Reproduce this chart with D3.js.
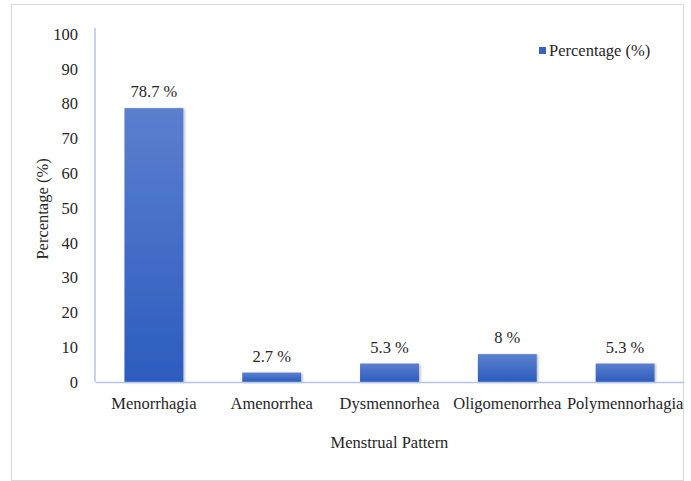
<!DOCTYPE html>
<html>
<head>
<meta charset="utf-8">
<script src="https://cdn.jsdelivr.net/npm/d3@7"></script>
<style>
  html, body { margin: 0; padding: 0; background: #fff; }
  svg { display: block; font-family: "Liberation Serif", "Times New Roman", serif; }
</style>
</head>
<body>
<svg id="chart" width="691" height="481"></svg>
<script>
// Menstrual pattern distribution
const categories = ["Menorrhagia", "Amenorrhea", "Dysmennorhea", "Oligomenorrhea", "Polymennorhagia"];
const values = [78.7, 2.7, 5.3, 8, 5.3];
const valueLabels = ["78.7 %", "2.7 %", "5.3 %", "8 %", "5.3 %"];
const yTicks = [0, 10, 20, 30, 40, 50, 60, 70, 80, 90, 100];
const seriesName = "Percentage (%)";

const FS = 16.5;
const TXT = "#262626";

const svg = d3.select("#chart");

// outer frame
svg.append("rect")
  .attr("x", 11.5).attr("y", 4.5)
  .attr("width", 672).attr("height", 476)
  .attr("fill", "#fff").attr("stroke", "#d9d9d9").attr("stroke-width", 1);

const margin = { left: 95, right: 684, top: 34, bottom: 382 };

const x = d3.scaleBand().domain(categories).range([margin.left, margin.right]).paddingInner(0.5).paddingOuter(0.25);
const y = d3.scaleLinear().domain([0, 100]).range([margin.bottom, margin.top]);

// bar gradient
const defs = svg.append("defs");
const grad = defs.append("linearGradient").attr("id", "barGrad")
  .attr("x1", 0).attr("y1", 0).attr("x2", 0).attr("y2", 1);
grad.append("stop").attr("offset", "0%").attr("stop-color", "#5b7fce");
grad.append("stop").attr("offset", "100%").attr("stop-color", "#2c5cbf");
const shadow = defs.append("filter").attr("id", "barShadow")
  .attr("x", "-10%").attr("y", "-10%").attr("width", "130%").attr("height", "130%");
shadow.append("feDropShadow").attr("dx", 1.5).attr("dy", 0.5).attr("stdDeviation", 1)
  .attr("flood-color", "#000").attr("flood-opacity", 0.25);

// y axis
const yAxis = svg.append("g").attr("transform", `translate(${margin.left},0)`)
  .call(d3.axisLeft(y).tickValues(yTicks).tickSize(0).tickPadding(17));
yAxis.select(".domain").attr("stroke", "#b4c7e7").attr("stroke-width", 1.5)
  .attr("d", `M0,${margin.bottom}V${margin.top - 6}`);
yAxis.selectAll("text").attr("font-family", "Liberation Serif").attr("font-size", FS).attr("fill", TXT);

// bars
svg.append("g").selectAll("rect").data(categories).join("rect")
  .attr("x", d => x(d))
  .attr("y", (d, i) => y(values[i]))
  .attr("width", x.bandwidth())
  .attr("height", (d, i) => y(0) - y(values[i]))
  .attr("fill", "url(#barGrad)")
  .attr("filter", "url(#barShadow)");

// x axis
const xAxis = svg.append("g").attr("transform", `translate(0,${margin.bottom})`)
  .call(d3.axisBottom(x).tickSize(0).tickPadding(15));
xAxis.select(".domain").attr("stroke", "#b4c7e7").attr("stroke-width", 1.5);
xAxis.selectAll("text").attr("font-family", "Liberation Serif").attr("font-size", FS).attr("fill", TXT);

// value labels
svg.append("g").selectAll("text").data(categories).join("text")
  .attr("x", d => x(d) + x.bandwidth() / 2)
  .attr("y", (d, i) => y(values[i]) - 11)
  .attr("text-anchor", "middle")
  .attr("font-size", FS).attr("fill", TXT)
  .text((d, i) => valueLabels[i]);

// axis titles
svg.append("text")
  .attr("transform", `translate(48,209) rotate(-90)`)
  .attr("text-anchor", "middle").attr("font-size", FS).attr("fill", TXT)
  .text("Percentage (%)");
svg.append("text")
  .attr("x", (margin.left + margin.right) / 2).attr("y", 448)
  .attr("text-anchor", "middle").attr("font-size", FS).attr("fill", TXT)
  .text("Menstrual Pattern");

// legend
const legend = svg.append("g").attr("transform", "translate(539,47)");
legend.append("rect").attr("width", 7).attr("height", 7).attr("fill", "#3563c3");
legend.append("text").attr("x", 10).attr("y", 9).attr("font-size", FS).attr("fill", TXT)
  .text(seriesName);
</script>
</body>
</html>
